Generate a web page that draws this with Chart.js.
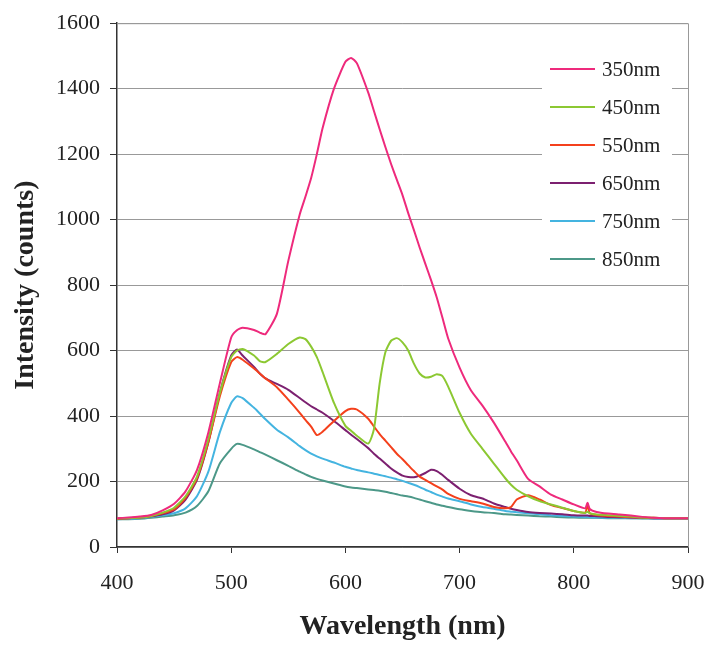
<!DOCTYPE html>
<html>
<head>
<meta charset="utf-8">
<script src="https://cdn.jsdelivr.net/npm/chart.js@4"></script>
<style>
  html, body { margin: 0; padding: 0; background: #fff; }
</style>
</head>
<body>
<canvas id="spectra" width="708" height="647"></canvas>
<script>
// emission spectra, intensity (counts) vs wavelength (nm)
const wavelengths = [400,410,420,430,440,450,460,470,480,490,500,
  505,510,520,525,530,
  540,550,560,565,570,575,580,590,
  600,605,610,620,625,630,635,640,645,650,655,660,665,670,675,680,685,690,
  700,710,720,730,740,745,750,760,770,780,790,800,
  810,812,814,820,830,840,850,860,870,880,890,900];

const labels = ['350nm', '450nm', '550nm', '650nm', '750nm', '850nm'];

const ex350 = [88,90,93,98,112,132,170,235,350,499,640,
  662,670,663,655,650,
  712,874,1016,1070,1127,1200,1279,1400,
  1482,1494,1478,1388,1332,1276,1222,1170,1122,1075,1020,968,915,865,815,762,700,637,
  548,478,432,380,322,292,265,208,185,160,145,130,
  118,135,116,107,102,99,96,92,89,88,88,88];

const ex450 = [87,88,90,95,105,120,155,215,330,470,580,
  600,605,585,568,565,
  590,620,640,635,612,580,535,440,
  370,355,340,316,360,500,595,630,638,625,600,560,530,518,520,528,522,490,
  410,345,300,255,210,190,175,155,140,130,120,110,
  104,108,103,99,97,95,93,90,89,88,88,88];

const ex550 = [86,88,90,95,103,115,150,210,320,460,565,
  580,572,545,530,515,
  488,450,410,388,368,342,352,385,
  415,422,420,392,368,345,325,305,285,268,250,232,215,205,195,185,175,162,
  147,140,133,122,118,122,145,158,145,128,119,110,
  105,132,103,98,95,93,91,90,89,88,88,88];

const ex650 = [86,88,90,94,100,112,145,205,320,470,585,
  603,585,550,530,515,
  498,480,455,442,430,420,410,385,
  357,343,330,302,285,270,255,240,228,218,214,213,218,226,236,232,220,205,
  178,158,148,133,122,117,113,107,104,102,100,97,
  96,96,95,94,92,91,90,89,88,88,88,88];

const ex750 = [85,86,88,92,97,103,118,155,230,350,440,
  460,455,425,408,390,
  358,335,308,296,285,277,270,258,
  245,240,235,228,224,220,216,212,207,202,196,190,183,175,168,160,154,148,
  140,130,122,117,110,108,106,103,100,97,95,93,
  92,92,91,90,89,89,88,88,87,87,87,87];

const ex850 = [85,85,86,89,93,97,105,125,170,255,300,
  315,312,298,290,282,
  265,248,230,222,214,208,203,194,
  185,182,180,176,174,172,169,165,161,157,154,150,145,140,135,130,126,122,
  115,110,106,104,100,99,98,96,94,93,91,90,
  89,89,89,89,88,88,88,87,87,87,87,87];

const series = [ex350, ex450, ex550, ex650, ex750, ex850];
const colors = ['#ee2a7c', '#8cc832', '#f4401c', '#7c2070', '#44b4e0', '#4c9888'];

const yTicks = [0, 200, 400, 600, 800, 1000, 1200, 1400, 1600];
const xTicks = [400, 500, 600, 700, 800, 900];

const serif = "'Liberation Serif', 'Times New Roman', serif";

// legend drawn inside the plot, over the grid lines
const insideLegend = {
  id: 'insideLegend',
  beforeDatasetsDraw(chart) {
    const ctx = chart.ctx;
    ctx.save();
    ctx.fillStyle = '#fff';
    ctx.fillRect(542, 40, 130, 238);
    ctx.font = '21px ' + serif;
    ctx.textBaseline = 'middle';
    ctx.fillStyle = '#222';
    chart.data.datasets.forEach((ds, i) => {
      const y = 69 + i * 38;
      ctx.strokeStyle = ds.borderColor;
      ctx.lineWidth = 2;
      ctx.beginPath();
      ctx.moveTo(550, y);
      ctx.lineTo(595, y);
      ctx.stroke();
      ctx.fillText(ds.label, 602, y + 1);
    });
    ctx.restore();
  },
  afterDraw(chart) {
    const a = chart.chartArea;
    const ctx = chart.ctx;
    ctx.save();
    ctx.strokeStyle = '#999';
    ctx.lineWidth = 1;
    ctx.beginPath();
    ctx.moveTo(a.left, a.top + 0.5);
    ctx.lineTo(a.right + 0.5, a.top + 0.5);
    ctx.lineTo(a.right + 0.5, a.bottom);
    ctx.stroke();
    ctx.restore();
  }
};

new Chart(document.getElementById('spectra').getContext('2d'), {
  type: 'line',
  data: {
    datasets: labels.map((lab, i) => ({
      label: lab,
      data: wavelengths.map((w, j) => ({x: w, y: series[i][j]})),
      borderColor: colors[i],
      backgroundColor: colors[i],
      borderWidth: 2,
      pointRadius: 0,
      tension: 0.2,
      fill: false
    }))
  },
  options: {
    responsive: false,
    animation: false,
    layout: { padding: { top: 21, right: 20, left: 0, bottom: 0 } },
    plugins: {
      legend: { display: false },
      tooltip: { enabled: false }
    },
    scales: {
      x: {
        type: 'linear',
        min: 400,
        max: 900,
        afterBuildTicks(scale) { scale.ticks = xTicks.map(v => ({value: v})); },
        afterFit(scale) {
          scale.height = 100;
          scale.paddingLeft = 0;
          scale.paddingRight = 0;
        },
        grid: { drawOnChartArea: false, tickColor: '#333', tickLength: 6 },
        border: { color: '#333', width: 1.5 },
        ticks: { color: '#222', padding: 17, font: { family: serif, size: 22 }, callback: v => String(v) },
        title: {
          display: true,
          text: 'Wavelength (nm)',
          color: '#222',
          padding: { top: 0, bottom: 3 },
          font: { family: serif, size: 28, weight: 'bold' }
        }
      },
      y: {
        min: 0,
        max: 1600,
        afterBuildTicks(scale) { scale.ticks = yTicks.map(v => ({value: v})); },
        afterFit(scale) { scale.width = 117; },
        grid: { color: '#999', tickColor: '#333', tickLength: 7 },
        border: { color: '#333', width: 1.5 },
        ticks: { color: '#222', padding: 10, font: { family: serif, size: 22 }, callback: v => String(v) },
        title: {
          display: true,
          text: 'Intensity (counts)',
          color: '#222',
          padding: { top: 9, bottom: 0 },
          font: { family: serif, size: 28, weight: 'bold' }
        }
      }
    }
  },
  plugins: [insideLegend]
});
</script>
</body>
</html>
